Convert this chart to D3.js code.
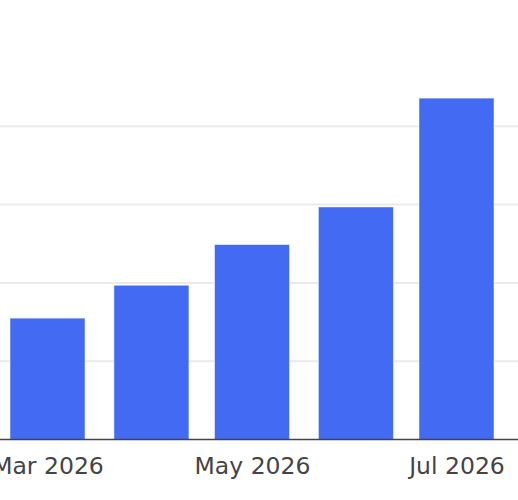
<!DOCTYPE html>
<html>
<head>
<meta charset="utf-8">
<script src="https://cdn.jsdelivr.net/npm/d3@7"></script>
<style>
  html, body { margin: 0; padding: 0; background: #fff; overflow: hidden; }
  svg { display: block; }
</style>
</head>
<body>
<svg id="chart" width="518" height="500"></svg>
<script>
// ---- data ----
const months = ["2026-03-01", "2026-04-01", "2026-05-01", "2026-06-01", "2026-07-01"];
const values = [15.5, 19.7, 24.9, 29.7, 43.6];
const tickDates = ["2026-03-01", "2026-05-01", "2026-07-01"];
const gridValues = [10, 20, 30, 40];

// ---- layout ----
const W = 518, H = 500;
const baseY = 439.5;
const svg = d3.select("#chart");
const parse = d3.utcParse("%Y-%m-%d");

const x = d3.scaleUtc()
  .domain([parse("2026-03-01"), parse("2026-07-01")])
  .range([47.5, 456.5]);
const y = d3.scaleLinear().domain([0, 45]).range([baseY, 87.15]);
const barW = 75;

// gridlines
svg.append("g").selectAll("line").data(gridValues).join("line")
  .attr("x1", 0).attr("x2", W)
  .attr("y1", d => y(d)).attr("y2", d => y(d))
  .attr("stroke", "#ebebeb").attr("stroke-width", 2);

// bars
svg.append("g").selectAll("rect").data(months.map((m, i) => ({ d: parse(m), v: values[i] }))).join("rect")
  .attr("x", d => x(d.d) - barW / 2)
  .attr("width", barW)
  .attr("y", d => y(d.v))
  .attr("height", d => baseY - y(d.v))
  .attr("fill", "#426af2")
  .attr("stroke", "rgba(255,255,255,0.5)")
  .attr("stroke-width", 1);

// x axis
const axis = d3.axisBottom(x)
  .tickValues(tickDates.map(parse))
  .tickFormat(d3.utcFormat("%b %Y"))
  .tickSize(0)
  .tickPadding(18.3);

const gx = svg.append("g").attr("transform", `translate(0,${baseY})`).call(axis);
gx.select(".domain").remove();
gx.selectAll("text")
  .attr("font-family", "'DejaVu Sans', Verdana, sans-serif")
  .attr("font-size", 23.5)
  .attr("fill", "#444");

svg.append("line")
  .attr("x1", 0).attr("x2", W)
  .attr("y1", baseY).attr("y2", baseY)
  .attr("stroke", "#444").attr("stroke-width", 1.5);
</script>
</body>
</html>
